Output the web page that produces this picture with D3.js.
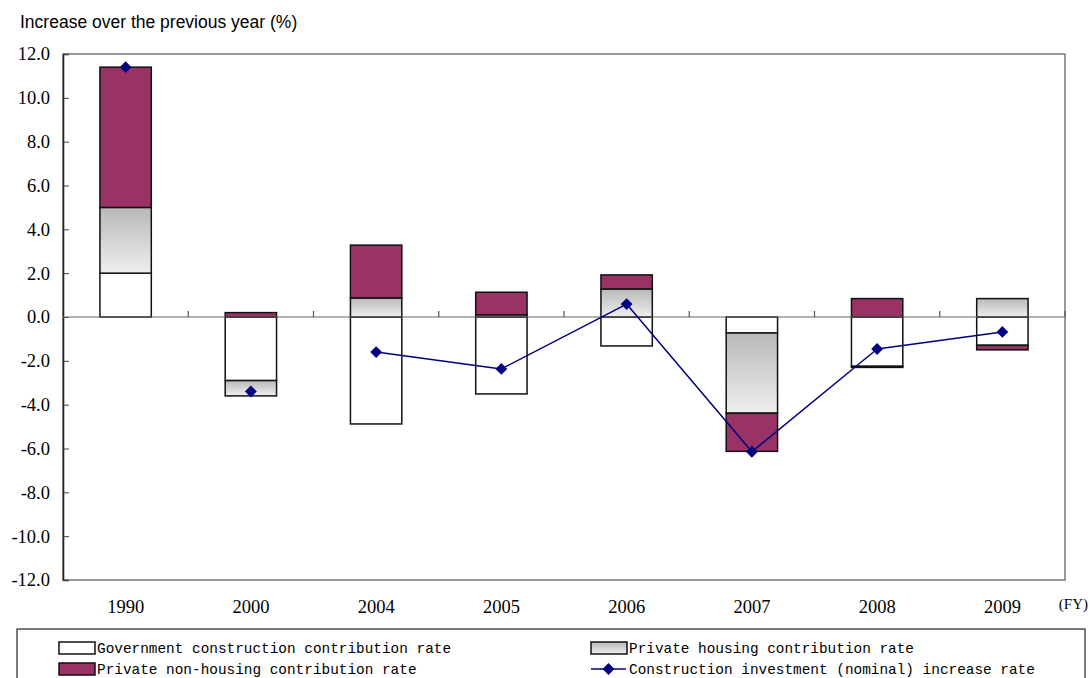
<!DOCTYPE html>
<html>
<head>
<meta charset="utf-8">
<script src="https://cdn.jsdelivr.net/npm/d3@7"></script>
<style>
  html, body { margin: 0; padding: 0; background: #fff; }
  svg { display: block; }
  .serif { font-family: 'Liberation Serif', 'Times New Roman', serif; }
  .mono { font-family: 'Liberation Mono', 'Courier New', monospace; }
  .sans { font-family: 'Liberation Sans', Arial, sans-serif; }
</style>
</head>
<body>
<svg id="chart" width="1090" height="678"></svg>
<script>
// Fiscal years on the category axis
const years = ["1990", "2000", "2004", "2005", "2006", "2007", "2008", "2009"];

// Contribution rates (percentage points) by component
const government  = [2.0, -2.9, -4.88, -3.51, -1.32, -0.73, -2.25, -1.29];
const housing     = [3.0, -0.7,  0.87,  0.10,  1.28, -3.66, -0.05,  0.84];
const nonHousing  = [6.4,  0.2,  2.41,  1.03,  0.64, -1.74,  0.84, -0.21];

// Construction investment (nominal) increase rate (%)
const investment  = [11.4, -3.4, -1.6, -2.37, 0.59, -6.15, -1.46, -0.68];

// Y axis ticks
const yTicks = [12, 10, 8, 6, 4, 2, 0, -2, -4, -6, -8, -10, -12];

const seriesKeys = ["gov", "housing", "nonHousing"];
const seriesNames = {
  gov: "Government construction contribution rate",
  housing: "Private housing contribution rate",
  nonHousing: "Private non-housing contribution rate",
  line: "Construction investment (nominal) increase rate"
};

const rows = years.map((y, i) => ({
  year: y,
  gov: government[i],
  housing: housing[i],
  nonHousing: nonHousing[i],
  line: investment[i]
}));

const svg = d3.select("#chart");
const plot = { left: 63, right: 1065, top: 54, bottom: 580 };

const x = d3.scaleBand().domain(years).range([plot.left, plot.right]).paddingInner(0.59).paddingOuter(0.295);
const xCat = d3.scaleBand().domain(years).range([plot.left, plot.right]);
const y = d3.scaleLinear().domain([-12, 12]).range([plot.bottom, plot.top]);

// Gradient used for the private housing fill
const defs = svg.append("defs");
const grad = defs.append("linearGradient").attr("id", "housingFill")
  .attr("x1", 0).attr("y1", 0).attr("x2", 0).attr("y2", 1);
grad.append("stop").attr("offset", "0%").attr("stop-color", "#b8b8b8");
grad.append("stop").attr("offset", "100%").attr("stop-color", "#efefef");

const fills = { gov: "#ffffff", housing: "url(#housingFill)", nonHousing: "#993366" };

// Plot frame
svg.append("rect")
  .attr("x", plot.left).attr("y", plot.top)
  .attr("width", plot.right - plot.left).attr("height", plot.bottom - plot.top)
  .attr("fill", "none").attr("stroke", "#555").attr("stroke-width", 1.2);

// Left axis with inward ticks; plain hyphen for negatives
const fmt = d3.format(".1f");
const yAxis = d3.axisLeft(y).tickValues(yTicks).tickSize(-6).tickPadding(13)
  .tickFormat(d => fmt(d).replace("\u2212", "-"));
const gy = svg.append("g").attr("transform", `translate(${plot.left},0)`).call(yAxis);
gy.attr("font-family", null).attr("font-size", null);
gy.select(".domain").attr("stroke", "#222").attr("stroke-width", 1.6);
gy.selectAll(".tick line").attr("stroke", "#444");
gy.selectAll("text")
  .attr("class", "serif")
  .style("font-size", "18.5px").attr("fill", "#000");

// Stacked bars (diverging about zero)
const stack = d3.stack().keys(seriesKeys).offset(d3.stackOffsetDiverging);
const stacked = stack(rows);

svg.append("g").selectAll("g")
  .data(stacked)
  .join("g")
  .attr("fill", d => fills[d.key])
  .selectAll("rect")
  .data(d => d.map(v => ({ v, key: d.key })))
  .join("rect")
  .attr("x", d => x(d.v.data.year))
  .attr("width", x.bandwidth())
  .attr("y", d => y(Math.max(d.v[0], d.v[1])))
  .attr("height", d => Math.abs(y(d.v[0]) - y(d.v[1])))
  .attr("stroke", "#111").attr("stroke-width", 1.5);

// Zero line with category separators
const zero = svg.append("g").attr("transform", `translate(0,${y(0)})`);
zero.append("line").attr("x1", plot.left).attr("x2", plot.right)
  .attr("stroke", "#666").attr("stroke-width", 1.2);
zero.selectAll("line.sep")
  .data(years.slice(1).concat(["end"]))
  .join("line").attr("class", "sep")
  .attr("x1", (d, i) => i < years.length - 1 ? xCat(d) : plot.right)
  .attr("x2", (d, i) => i < years.length - 1 ? xCat(d) : plot.right)
  .attr("y1", 0).attr("y2", -6)
  .attr("stroke", "#555").attr("stroke-width", 1.2);

// Investment rate line: only consecutive fiscal years are joined
const cx = d => x(d.year) + x.bandwidth() / 2;
const segments = d3.pairs(rows).filter(([a, b]) => +b.year - +a.year === 1);
const lineGen = d3.line().x(cx).y(d => y(d.line));
svg.append("g").selectAll("path")
  .data(segments)
  .join("path")
  .attr("d", lineGen)
  .attr("fill", "none").attr("stroke", "#000080").attr("stroke-width", 1.5);

const diamond = d3.symbol().type(d3.symbolSquare).size(70);
svg.append("g").selectAll("path")
  .data(rows)
  .join("path")
  .attr("d", diamond)
  .attr("transform", d => `translate(${cx(d)},${y(d.line)}) rotate(45)`)
  .attr("fill", "#000080");

// Category labels
svg.append("g").selectAll("text")
  .data(years)
  .join("text")
  .attr("class", "serif")
  .attr("x", d => cx({ year: d }))
  .attr("y", 613)
  .attr("text-anchor", "middle")
  .style("font-size", "18.5px")
  .text(d => d);

svg.append("text")
  .attr("class", "serif")
  .attr("x", 1088).attr("y", 609)
  .attr("text-anchor", "end")
  .style("font-size", "15px")
  .text("(FY)");

// Axis title
svg.append("text")
  .attr("class", "sans")
  .attr("x", 20).attr("y", 27.5)
  .style("font-size", "17.5px")
  .text("Increase over the previous year (%)");

// Legend
const legend = svg.append("g");
legend.append("rect")
  .attr("x", 17).attr("y", 629).attr("width", 1068).attr("height", 60)
  .attr("fill", "#fff").attr("stroke", "#222").attr("stroke-width", 1.2);

const legendItems = [
  { key: "gov", col: 0, row: 0 },
  { key: "housing", col: 1, row: 0 },
  { key: "nonHousing", col: 0, row: 1 },
  { key: "line", col: 1, row: 1 }
];
const colX = [59, 591];
const rowY = [648, 669];

const li = legend.selectAll("g.item")
  .data(legendItems)
  .join("g").attr("class", "item")
  .attr("transform", d => `translate(${colX[d.col]},${rowY[d.row]})`);

li.filter(d => d.key !== "line").append("rect")
  .attr("x", 0).attr("y", -6).attr("width", 36).attr("height", 12)
  .attr("fill", d => fills[d.key])
  .attr("stroke", "#111").attr("stroke-width", 1.5);

const lineItem = li.filter(d => d.key === "line");
lineItem.append("line").attr("x1", 0).attr("x2", 35).attr("y1", 0).attr("y2", 0)
  .attr("stroke", "#000080").attr("stroke-width", 1.5);
lineItem.append("path").attr("d", diamond)
  .attr("transform", "translate(17.5,0) rotate(45)").attr("fill", "#000080");

li.append("text")
  .attr("class", "mono")
  .attr("x", 38).attr("y", 5)
  .style("font-size", "14.4px")
  .text(d => seriesNames[d.key]);
</script>
</body>
</html>
